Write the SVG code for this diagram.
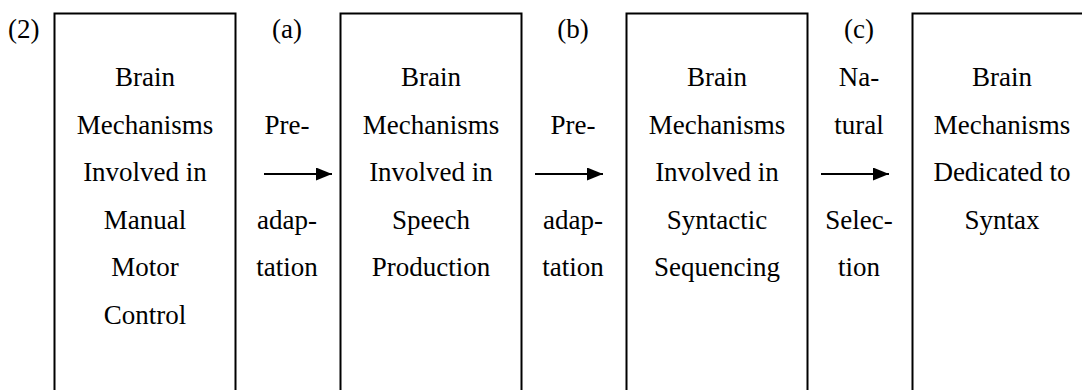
<svg xmlns="http://www.w3.org/2000/svg" width="1082" height="390" viewBox="0 0 1082 390">
<style>
text{font-family:'Liberation Serif','DejaVu Serif',serif;font-size:27px;fill:#000;text-anchor:middle}
.box{fill:none;stroke:#000;stroke-width:2}
.arr{stroke:#000;stroke-width:1.8;fill:none}
</style>
<defs>
<marker id="ah" viewBox="0 0 16 13" refX="16" refY="6.5" markerWidth="16" markerHeight="13" markerUnits="userSpaceOnUse" orient="auto">
<path d="M0,0 L16,6.5 L0,13 Z" fill="#000"/>
</marker>
</defs>
<rect width="1082" height="390" fill="#fff"/>
<g font-family="Liberation Serif, serif">
<text x="8" y="38" style="text-anchor:start">(2)</text>
<g id="node1">
<rect class="box" x="54.5" y="13.5" width="181" height="400"/>
<text x="145" y="86">Brain</text>
<text x="145" y="133.6">Mechanisms</text>
<text x="145" y="181.2">Involved in</text>
<text x="145" y="228.8">Manual</text>
<text x="145" y="276.4">Motor</text>
<text x="145" y="324">Control</text>
</g>
<g id="node2">
<rect class="box" x="340.5" y="13.5" width="181" height="400"/>
<text x="431" y="86">Brain</text>
<text x="431" y="133.6">Mechanisms</text>
<text x="431" y="181.2">Involved in</text>
<text x="431" y="228.8">Speech</text>
<text x="431" y="276.4">Production</text>
</g>
<g id="node3">
<rect class="box" x="626.5" y="13.5" width="181" height="400"/>
<text x="717" y="86">Brain</text>
<text x="717" y="133.6">Mechanisms</text>
<text x="717" y="181.2">Involved in</text>
<text x="717" y="228.8">Syntactic</text>
<text x="717" y="276.4">Sequencing</text>
</g>
<g id="node4">
<rect class="box" x="912.5" y="13.5" width="181" height="400"/>
<text x="1002" y="86">Brain</text>
<text x="1002" y="133.6">Mechanisms</text>
<text x="1002" y="181.2">Dedicated to</text>
<text x="1002" y="228.8">Syntax</text>
</g>
<g id="connectors">
<line class="arr" x1="264" y1="174" x2="332" y2="174" marker-end="url(#ah)"/>
<line class="arr" x1="535" y1="174" x2="603" y2="174" marker-end="url(#ah)"/>
<line class="arr" x1="821" y1="174" x2="889" y2="174" marker-end="url(#ah)"/>
<text x="287" y="38">(a)</text>
<text x="287" y="133.6">Pre-</text>
<text x="287" y="228.8">adap-</text>
<text x="287" y="276.4">tation</text>
<text x="573" y="38">(b)</text>
<text x="573" y="133.6">Pre-</text>
<text x="573" y="228.8">adap-</text>
<text x="573" y="276.4">tation</text>
<text x="859" y="38">(c)</text>
<text x="859" y="86">Na-</text>
<text x="859" y="133.6">tural</text>
<text x="859" y="228.8">Selec-</text>
<text x="859" y="276.4">tion</text>
</g>
</g>
</svg>
